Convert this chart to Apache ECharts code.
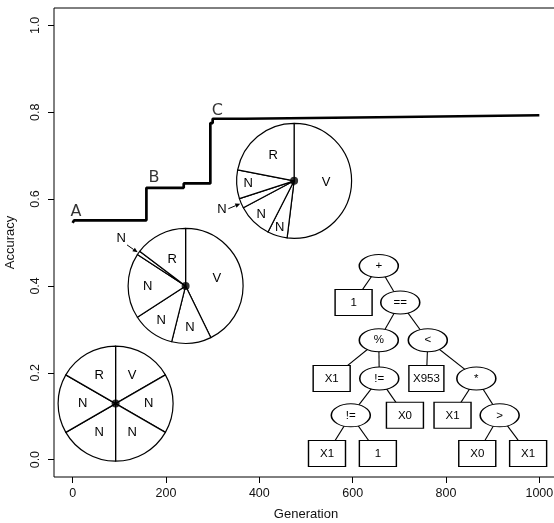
<!DOCTYPE html>
<html><head><meta charset="utf-8">
<script src="https://cdn.jsdelivr.net/npm/echarts@6/dist/echarts.min.js"></script>
<style>html,body{margin:0;padding:0;background:#fff}#c{width:554px;height:523px}</style>
</head><body><div id="c"></div>
<script>
// ---- data ----
const generation = [0, 3, 158, 238, 295, 300, 369, 701, 1000];
const accuracy   = [0.545, 0.551, 0.626, 0.636, 0.775, 0.785, 0.789, 0.793, 0.793];
const xTickValues = [0, 200, 400, 600, 800, 1000];
const yTickValues = [0, 0.2, 0.4, 0.6, 0.8, 1.0];

const stageLabels = ['A', 'B', 'C'];
const stageGeneration = [7, 174, 310];
const stageAccuracy = [0.570, 0.650, 0.803];

const pieSliceNames = ['V', 'N', 'N', 'N', 'N', 'R'];
const pie1Values = [60, 60, 60, 60, 60, 60];
const pie2Values = [154, 40, 43, 66, 4, 53];
const pie3Values = [187, 20, 35, 10, 29, 79];

const treeLabels = ['+', '1', '==', '%', '<', 'X1', '!=', 'X953', '*', '!=', 'X0', 'X1', '>', 'X1', '1', 'X0', 'X1'];
const treeIsOperator = [true, false, true, true, true, false, true, false, true, true, false, false, true, false, false, false, false];
const treeLinks = [[0,1],[0,2],[2,3],[2,4],[3,5],[3,6],[4,7],[4,8],[6,9],[6,10],[8,11],[8,12],[9,13],[9,14],[12,15],[12,16]];

// ---- layout (positions in axis units, sizes in px) ----
const treePos = [[656,0.446],[602,0.362],[702,0.362],[656,0.275],[761,0.275],[555,0.187],[657,0.187],[758,0.187],[865,0.187],[596,0.102],[712,0.102],[814,0.102],[915,0.102],[545,0.014],[654,0.014],[867,0.014],[976,0.014]];
const PIE_R = 57.5;
const pies = [
  { values: pie1Values, center: [92, 0.129],   labelDist: [30, 30, 30, 30, 30, 30], outside: [] },
  { values: pie2Values, center: [242, 0.400],  labelDist: [29, 39, 39, 35, null, 27], outside: [4] },
  { values: pie3Values, center: [474.5, 0.642], labelDist: [29, 46, 44, null, 43, 30], outside: [3] }
];

const FONT = '"Liberation Sans", Arial, sans-serif';
const chart = echarts.init(document.getElementById('c'), null, { renderer: 'canvas' });

const axisCommon = {
  type: 'value',
  axisLine: { show: false, onZero: false },
  splitLine: { show: false },
  nameLocation: 'middle',
  nameTextStyle: { fontSize: 13, color: '#111', fontFamily: FONT }
};

const baseSeries = [
  {
    type: 'line', step: 'end', symbol: 'none', silent: true, z: 3,
    data: generation.map((g, i) => [g, accuracy[i]]),
    lineStyle: { color: '#000', width: 2.7 }
  },
  {
    type: 'scatter', silent: true, z: 3, symbolSize: 1,
    itemStyle: { color: 'rgba(0,0,0,0)' },
    data: stageLabels.map((s, i) => ({ name: s, value: [stageGeneration[i], stageAccuracy[i]] })),
    label: { show: true, position: 'inside', formatter: '{b}', color: '#000', fontSize: 16, fontFamily: '"DejaVu Sans", sans-serif' }
  },
  {
    type: 'graph', coordinateSystem: 'cartesian2d', layout: 'none', silent: true, z: 5,
    emphasis: { disabled: true },
    data: treeLabels.map((t, i) => ({
      id: 'n' + i, name: t, value: treePos[i],
      symbol: treeIsOperator[i] ? 'path://M0,50 A50,50 0 1,1 100,50 A50,50 0 1,1 0,50 Z' : 'rect',
      symbolSize: treeIsOperator[i] ? [39, 23] : (t === 'X953' ? [35, 26] : [37, 26])
    })),
    links: treeLinks.map(([s, t]) => ({ source: 'n' + s, target: 'n' + t })),
    itemStyle: { color: '#fff', borderColor: '#000', borderWidth: 1.2 },
    lineStyle: { color: '#000', width: 1.1, opacity: 1, curveness: 0 },
    label: { show: true, position: 'inside', formatter: '{b}', color: '#000', fontSize: 11.5, fontFamily: FONT }
  },
  {
    type: 'scatter', silent: true, z: 10, symbolSize: 8,
    itemStyle: { color: '#000' },
    data: pies.map(p => p.center)
  }
];

const option = {
  animation: false,
  backgroundColor: '#fff',
  grid: { left: 54, top: 8, right: -4, bottom: 46, show: true, borderColor: '#000', borderWidth: 1,
          backgroundColor: 'rgba(0,0,0,0)', containLabel: false, outerBoundsMode: 'none' },
  xAxis: Object.assign({}, axisCommon, {
    min: -40, max: 1040, name: 'Generation', nameGap: 31,
    axisTick: { show: true, length: 6, lineStyle: { color: '#000' }, customValues: xTickValues },
    axisLabel: { customValues: xTickValues, margin: 10, fontSize: 12.5, color: '#111', fontFamily: FONT,
                 formatter: v => String(v) }
  }),
  yAxis: Object.assign({}, axisCommon, {
    min: -0.04, max: 1.04, name: 'Accuracy', nameGap: 37,
    axisTick: { show: true, length: 6, lineStyle: { color: '#000' }, customValues: yTickValues },
    axisLabel: { customValues: yTickValues, margin: 12, rotate: 90, fontSize: 12.5, color: '#111', fontFamily: FONT,
                 formatter: v => v.toFixed(1) }
  }),
  series: baseSeries
};
chart.setOption(option);

// pies placed at their data-space centres
const pieSeries = [];
const graphics = [];
pies.forEach(p => {
  const c = chart.convertToPixel({ gridIndex: 0 }, p.center);
  const total = p.values.reduce((a, b) => a + b, 0);
  pieSeries.push({
    type: 'pie', center: c, radius: PIE_R, startAngle: 90, clockwise: true, silent: true, z: 4,
    avoidLabelOverlap: false, emphasis: { disabled: true },
    label: { show: false }, labelLine: { show: false },
    itemStyle: { color: '#fff', borderColor: '#000', borderWidth: 1.2 },
    data: p.values.map((v, i) => ({ value: v, name: pieSliceNames[i] }))
  });
  const dists = Array.from(new Set(p.labelDist.filter(d => d !== null)));
  dists.forEach(d => {
    pieSeries.push({
      type: 'pie', center: c, radius: [d - 6, d + 6], startAngle: 90, clockwise: true, silent: true, z: 6,
      avoidLabelOverlap: false, emphasis: { disabled: true }, labelLine: { show: false },
      itemStyle: { color: 'rgba(0,0,0,0)', borderWidth: 0 },
      label: { show: true, position: 'inside', formatter: '{b}', color: '#000', fontSize: 13, fontFamily: FONT },
      data: p.values.map((v, i) => ({ value: v, name: pieSliceNames[i], label: { show: p.labelDist[i] === d } }))
    });
  });
  // outside labels with arrows
  p.outside.forEach(i => {
    let start = 0;
    for (let k = 0; k < i; k++) start += p.values[k];
    const mid = (start + p.values[i] / 2) / total * 2 * Math.PI;
    const dx = Math.sin(mid), dy = -Math.cos(mid);
    const tip = [c[0] + dx * (PIE_R + 1), c[1] + dy * (PIE_R + 1)];
    const tail = [c[0] + dx * (PIE_R + 14), c[1] + dy * (PIE_R + 14)];
    const lab = [c[0] + dx * (PIE_R + 21), c[1] + dy * (PIE_R + 21) - 2];
    const px = -dy, py = dx;
    const base = [tip[0] + dx * 5, tip[1] + dy * 5];
    graphics.push({ type: 'line', z: 20, shape: { x1: tail[0], y1: tail[1], x2: base[0], y2: base[1] }, style: { stroke: '#000', lineWidth: 1 } });
    graphics.push({ type: 'polygon', z: 20, shape: { points: [tip, [base[0] + px * 2.2, base[1] + py * 2.2], [base[0] - px * 2.2, base[1] - py * 2.2]] }, style: { fill: '#000' } });
    graphics.push({ type: 'text', z: 20, style: { text: pieSliceNames[i], x: lab[0], y: lab[1], align: 'center', verticalAlign: 'middle', fill: '#000', font: '13px ' + FONT } });
  });
});

option.series = baseSeries.concat(pieSeries);
option.graphic = graphics;
chart.setOption(option, true);
</script>
</body></html>
